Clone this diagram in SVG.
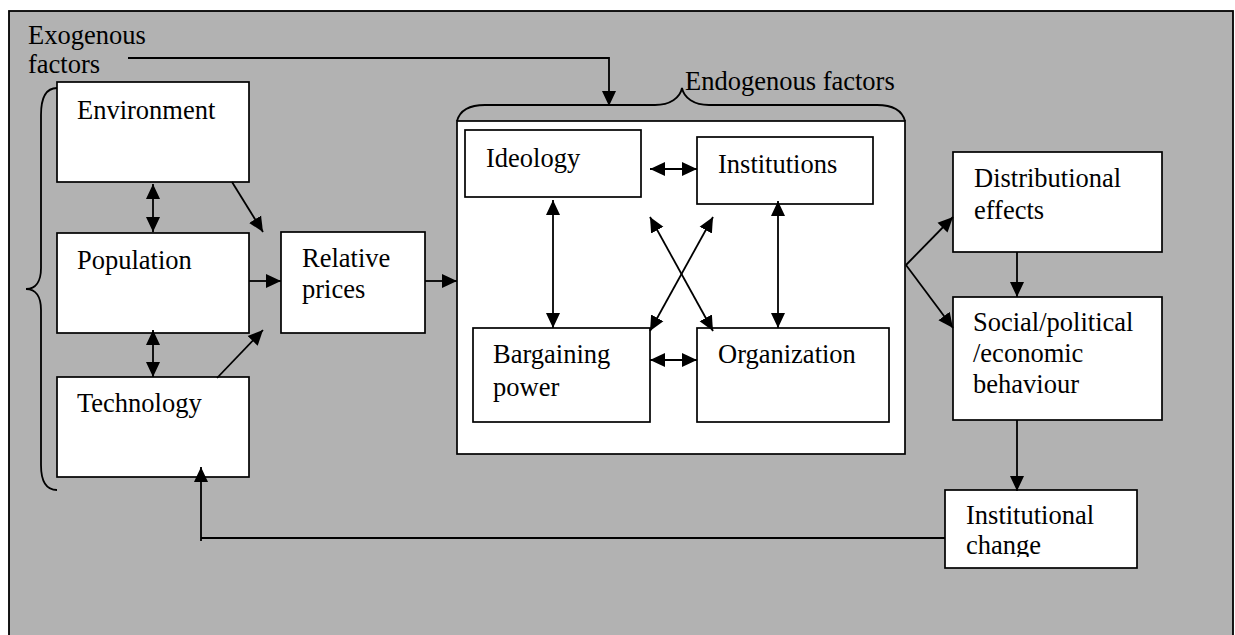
<svg xmlns="http://www.w3.org/2000/svg" width="1235" height="635" viewBox="0 0 1235 635">
<style>
.t{font-family:"Liberation Serif","Times New Roman",serif;font-size:26.5px;fill:#000}
.box{fill:#fff;stroke:#000;stroke-width:1.7}
.c{fill:none;stroke:#000;stroke-width:1.8}
.a{marker-end:url(#ah)}
.d{marker-start:url(#ah);marker-end:url(#ah)}
</style>
<defs>
<marker id="ah" markerUnits="userSpaceOnUse" markerWidth="16" markerHeight="15" refX="15" refY="7" orient="auto-start-reverse" viewBox="0 0 16 14">
<path d="M0,0 L15,7 L0,14 z" fill="#000"/>
</marker>
<clipPath id="clipIC"><rect x="945" y="490" width="192" height="67"/></clipPath>
</defs>
<rect x="0" y="0" width="1235" height="635" fill="#fff"/>
<rect x="9" y="11" width="1224" height="640" fill="#b2b2b2" stroke="#000" stroke-width="1.8"/>

<g id="exogenous-label">
<text class="t" x="28" y="44">Exogenous</text>
<text class="t" x="28" y="73">factors</text>
<path class="c" d="M57,88 C46,88 41,98 41,115 L41,268 C41,281 36,289 26,289 C36,289 41,297 41,310 L41,465 C41,482 46,490 57,490" stroke-width="1.6"/>
</g>

<g id="endogenous-box">
<rect class="box" x="457" y="121" width="448" height="333"/>
<path class="c" d="M457,121 C460,110 470,105 485,105 L655,105 C670,105 680,98 682,88 C684,98 694,105 709,105 L877,105 C892,105 902,110 905,121" stroke-width="1.6"/>
<text class="t" x="685" y="90">Endogenous factors</text>
</g>

<g id="environment"><rect class="box" x="57" y="82" width="192" height="100"/><text class="t" x="77" y="119">Environment</text></g>
<g id="population"><rect class="box" x="57" y="233" width="192" height="100"/><text class="t" x="77" y="269">Population</text></g>
<g id="technology"><rect class="box" x="57" y="377" width="192" height="100"/><text class="t" x="77" y="412">Technology</text></g>
<g id="relative-prices"><rect class="box" x="281" y="232" width="144" height="101"/><text class="t" x="302" y="267">Relative</text><text class="t" x="302" y="298">prices</text></g>

<g id="ideology"><rect class="box" x="465" y="130" width="176" height="67"/><text class="t" x="486" y="167">Ideology</text></g>
<g id="institutions"><rect class="box" x="697" y="137" width="176" height="67"/><text class="t" x="718" y="173">Institutions</text></g>
<g id="bargaining-power"><rect class="box" x="473" y="328" width="177" height="94"/><text class="t" x="493" y="363">Bargaining</text><text class="t" x="493" y="396">power</text></g>
<g id="organization"><rect class="box" x="697" y="328" width="192" height="94"/><text class="t" x="718" y="363">Organization</text></g>

<g id="distributional-effects"><rect class="box" x="953" y="152" width="209" height="100"/><text class="t" x="974" y="187">Distributional</text><text class="t" x="974" y="219">effects</text></g>
<g id="behaviour"><rect class="box" x="953" y="297" width="209" height="123"/><text class="t" x="973" y="331">Social/political</text><text class="t" x="973" y="362">/economic</text><text class="t" x="973" y="393">behaviour</text></g>
<g id="institutional-change"><rect class="box" x="945" y="490" width="192" height="78"/><g clip-path="url(#clipIC)"><text class="t" x="966" y="524">Institutional</text><text class="t" x="966" y="554">change</text></g></g>

<g id="connectors">
<path class="c a" d="M128,58 L609,58 L609,106"/>
<path class="c d" d="M153,184 L153,232"/>
<path class="c d" d="M153,330 L153,377"/>
<path class="c a" d="M232,182 L263,232"/>
<path class="c a" d="M249,281 L281,281"/>
<path class="c a" d="M217,378 L263,330"/>
<path class="c a" d="M425,281 L457,281"/>
<path class="c d" d="M650,169 L697,169"/>
<path class="c d" d="M553,200 L553,328"/>
<path class="c d" d="M778,201 L778,328"/>
<path class="c d" d="M650,217 L713,331"/>
<path class="c d" d="M713,217 L650,331"/>
<path class="c d" d="M650,360 L697,360"/>
<path class="c a" d="M906,265 L953,217"/>
<path class="c a" d="M906,265 L953,328"/>
<path class="c a" d="M1017,252 L1017,297"/>
<path class="c a" d="M1017,420 L1017,491"/>
<path class="c" d="M945,538 L201,538"/>
<path class="c a" d="M201,541 L201,467"/>
</g>
</svg>
